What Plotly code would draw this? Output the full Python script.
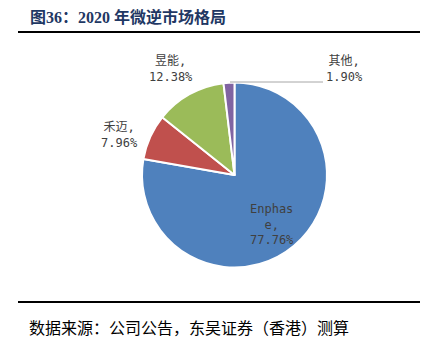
import plotly.graph_objects as go

categories = ["Enphase", "禾迈", "昱能", "其他"]
shares = [77.76, 7.96, 12.38, 1.90]
colors = ["#4F81BD", "#C0504D", "#9BBB59", "#8064A2"]

W, H = 428, 355
cx, cy, r = 234.5, 175, 92.5

fig = go.Figure(go.Pie(
    labels=categories,
    values=shares,
    sort=False,
    direction="clockwise",
    rotation=0,
    textinfo="none",
    hoverinfo="label+percent",
    marker=dict(colors=colors, line=dict(color="white", width=2)),
    domain=dict(x=[(cx - r) / W, (cx + r) / W], y=[(H - cy - r) / H, (H - cy + r) / H]),
    showlegend=False,
))

lab_font = dict(family="DejaVu Sans Mono, Noto Sans CJK SC", size=12, color="#404040")
label_pos = {
    "Enphase": (272, 224),
    "禾迈": (120, 135),
    "昱能": (171, 69),
    "其他": (344, 69),
}
for name, val in zip(categories, shares):
    x, y = label_pos[name]
    if name == "Enphase":
        txt = "Enphas<br>e,<br>%.2f%%" % val
    else:
        txt = "%s,<br>%.2f%%" % (name, val)
    fig.add_annotation(x=x / W, y=1 - y / H, xref="paper", yref="paper",
                       text=txt, showarrow=False, font=lab_font,
                       xanchor="center", yanchor="middle", align="center")

# leader line for 其他
fig.add_shape(type="line", xref="paper", yref="paper",
              x0=230 / W, x1=323 / W, y0=1 - 82 / H, y1=1 - 82 / H,
              line=dict(color="#A6A6A6", width=1))

# title & rules
fig.add_annotation(x=28 / W, y=1 - 17 / H, xref="paper", yref="paper",
                   text="<b>图36：2020 年微逆市场格局</b>", showarrow=False,
                   xanchor="left", yanchor="middle",
                   font=dict(family="Liberation Serif, Noto Sans CJK SC", size=16, color="#1F3864"))
for yy in (32, 302):
    fig.add_shape(type="line", xref="paper", yref="paper",
                  x0=18 / W, x1=420 / W, y0=1 - yy / H, y1=1 - yy / H,
                  line=dict(color="#000000", width=2))
fig.add_annotation(x=27 / W, y=1 - 327 / H, xref="paper", yref="paper",
                   text="数据来源：公司公告，东吴证券（香港）测算", showarrow=False,
                   xanchor="left", yanchor="middle",
                   font=dict(family="Noto Sans CJK SC", size=16, color="#000000"))

fig.update_layout(width=W, height=H, margin=dict(l=0, r=0, t=0, b=0),
                  paper_bgcolor="white", plot_bgcolor="white")
fig.write_html("out.html", config={"displayModeBar": False},
               post_script="document.body.style.margin='0';")
